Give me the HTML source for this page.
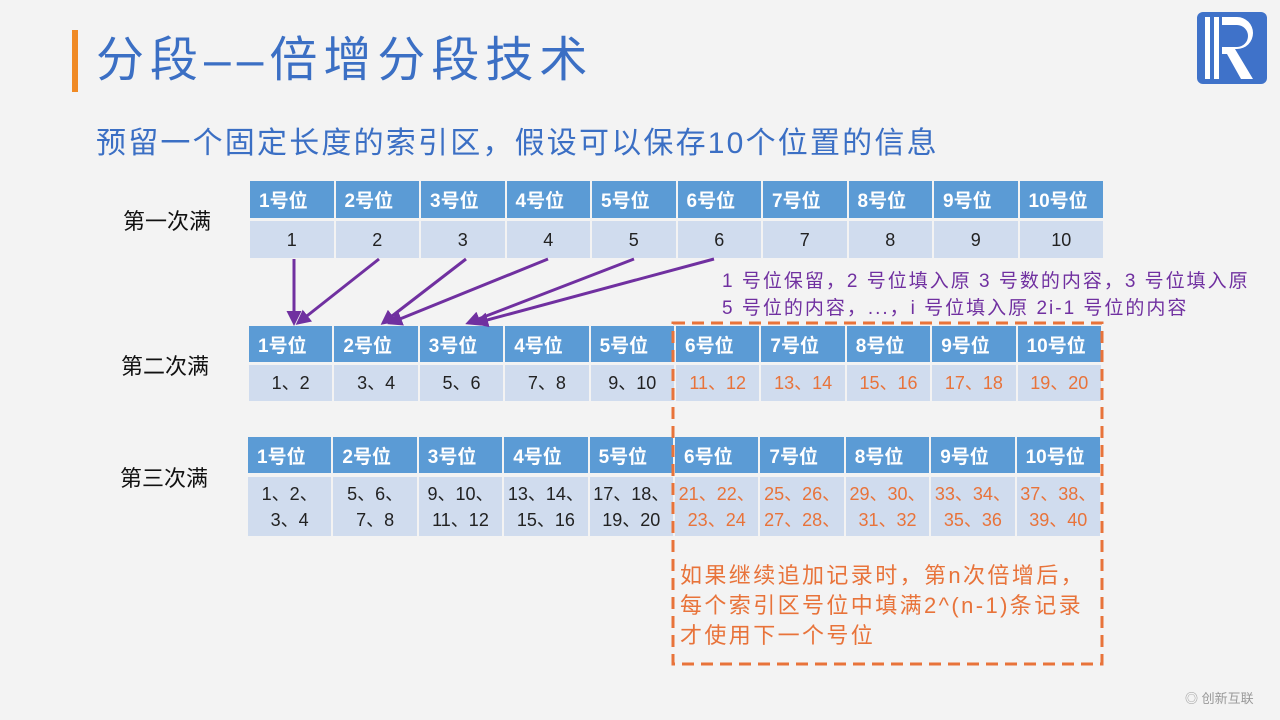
<!DOCTYPE html>
<html><head><meta charset="utf-8"><style>
body{margin:0;width:1280px;height:720px;overflow:hidden;background:#f3f3f3;font-family:"Liberation Sans","Noto Sans CJK SC",sans-serif;position:relative}
.a{position:absolute}
.t{position:absolute;display:grid;grid-template-columns:repeat(10,1fr);gap:2px;}
.h{background:#5b9bd5;color:#fff;font-weight:bold;font-size:19px;display:flex;align-items:center;padding-left:9px}
.d{background:#d0dcee;color:#222;font-size:18px;display:flex;align-items:center;justify-content:center;text-align:center;line-height:26px}
.o{color:#e8733a}
.lbl{position:absolute;font-size:22px;color:#111}
</style></head><body>
<div class="a" style="left:72px;top:30px;width:6px;height:62px;background:#f08a24"></div>
<div class="a" style="left:96px;top:30px;font-size:48px;color:#3b6fc4;line-height:62px;letter-spacing:6px;white-space:nowrap">分段––倍增分段技术</div>
<div class="a" style="left:1197px;top:12px;width:70px;height:72px;background:#3f72c9;border-radius:6px"></div>
<div class="a" style="left:1205px;top:17px;width:5px;height:62px;background:#fff"></div>
<div class="a" style="left:1214px;top:17px;width:5px;height:62px;background:#fff"></div>
<svg class="a" style="left:1197px;top:12px" width="70" height="72">
<path d="M25,5 H40 A16,16 0 0 1 40,37 H38 L56,67 H44 L30,42 H25 V35 H40 A8,8 0 0 0 40,13 H25 Z" fill="#fff"/>
</svg>
<div class="a" style="left:96px;top:124px;font-size:30px;color:#3b6fc4;line-height:40px;letter-spacing:2.2px">预留一个固定长度的索引区，假设可以保存10个位置的信息</div>

<div class="lbl" style="left:123px;top:204px">第一次满</div>
<div class="lbl" style="left:121px;top:349px">第二次满</div>
<div class="lbl" style="left:120px;top:461px">第三次满</div>

<div class="t" style="left:250px;top:181px;width:853px;grid-template-rows:37px 37px;row-gap:3px">
<div class="h">1号位</div><div class="h">2号位</div><div class="h">3号位</div><div class="h">4号位</div><div class="h">5号位</div><div class="h">6号位</div><div class="h">7号位</div><div class="h">8号位</div><div class="h">9号位</div><div class="h">10号位</div>
<div class="d">1</div><div class="d">2</div><div class="d">3</div><div class="d">4</div><div class="d">5</div><div class="d">6</div><div class="d">7</div><div class="d">8</div><div class="d">9</div><div class="d">10</div>
</div>

<div class="t" style="left:249px;top:326px;width:852px;grid-template-rows:36px 36px;row-gap:3px">
<div class="h">1号位</div><div class="h">2号位</div><div class="h">3号位</div><div class="h">4号位</div><div class="h">5号位</div><div class="h">6号位</div><div class="h">7号位</div><div class="h">8号位</div><div class="h">9号位</div><div class="h">10号位</div>
<div class="d">1、2</div><div class="d">3、4</div><div class="d">5、6</div><div class="d">7、8</div><div class="d">9、10</div><div class="d o">11、12</div><div class="d o">13、14</div><div class="d o">15、16</div><div class="d o">17、18</div><div class="d o">19、20</div>
</div>

<div class="t" style="left:248px;top:437px;width:852px;grid-template-rows:36px 59px;row-gap:4px">
<div class="h">1号位</div><div class="h">2号位</div><div class="h">3号位</div><div class="h">4号位</div><div class="h">5号位</div><div class="h">6号位</div><div class="h">7号位</div><div class="h">8号位</div><div class="h">9号位</div><div class="h">10号位</div>
<div class="d">1、2、<br>3、4</div><div class="d">5、6、<br>7、8</div><div class="d">9、10、<br>11、12</div><div class="d">13、14、<br>15、16</div><div class="d">17、18、<br>19、20</div><div class="d o">21、22、<br>23、24</div><div class="d o">25、26、<br>27、28、</div><div class="d o">29、30、<br>31、32</div><div class="d o">33、34、<br>35、36</div><div class="d o">37、38、<br>39、40</div>
</div>

<svg class="a" style="left:0;top:0" width="1280" height="720">
<defs><marker id="m" viewBox="0 0 10 10" refX="8" refY="5" markerWidth="5" markerHeight="5" orient="auto"><path d="M0,0L10,5L0,10z" fill="#7030a0"/></marker></defs>
<g stroke="#7030a0" stroke-width="3" fill="none" marker-end="url(#m)">
<line x1="294" y1="259" x2="294" y2="323"/>
<line x1="379" y1="259" x2="298" y2="323"/>
<line x1="466" y1="259" x2="383" y2="323"/>
<line x1="548" y1="259" x2="390" y2="323"/>
<line x1="634" y1="259" x2="468" y2="323"/>
<line x1="714" y1="259" x2="476" y2="323"/>
</g>
<rect x="673" y="323" width="429" height="341" fill="none" stroke="#e8733a" stroke-width="3" stroke-dasharray="12,7"/>
</svg>

<div class="a" style="left:722px;top:268px;font-size:19px;color:#7030a0;line-height:27px;letter-spacing:2px;white-space:nowrap">1 号位保留，2 号位填入原 3 号数的内容，3 号位填入原<br>5 号位的内容，...，i 号位填入原 2i-1 号位的内容</div>
<div class="a" style="left:680px;top:561px;font-size:22px;color:#e8733a;line-height:30px;letter-spacing:2.4px;white-space:nowrap">如果继续追加记录时，第n次倍增后，<br>每个索引区号位中填满2^(n-1)条记录<br>才使用下一个号位</div>
<div class="a" style="left:1185px;top:688px;font-size:13px;color:#999">◎ 创新互联</div>
</body></html>
